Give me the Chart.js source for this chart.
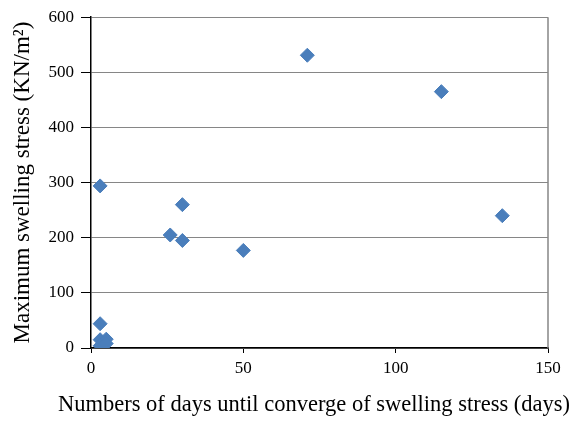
<!DOCTYPE html>
<html>
<head>
<meta charset="utf-8">
<script src="https://cdn.jsdelivr.net/npm/chart.js@4"></script>
<style>
  body { margin: 0; background: #fff; }
  #wrap { width: 574px; height: 425px; }
</style>
</head>
<body>
<div id="wrap"><canvas id="grafico"></canvas></div>
<script>
// dati
const giorni = [3, 3, 3, 5, 4, 3, 5, 26, 30, 30, 50, 71, 115, 135];
const pressione = [294, 44, 15, 16, 8, 4, 8, 205, 260, 195, 177, 531, 465, 240];
const tickX = [0, 50, 100, 150];
const tickY = [0, 100, 200, 300, 400, 500, 600];
const titoloX = "Numbers of days until converge of swelling stress (days)";
const titoloY = "Maximum swelling stress (KN/m²)";

const punti = giorni.map((g, i) => ({ x: g, y: pressione[i] }));

const fontSerif = "'Liberation Serif', 'Times New Roman', serif";

// bordo destro della cornice + titolo asse x (piu largo dell'asse, quindi disegnato a mano)
const cornice = {
  id: "cornice",
  afterDraw(chart) {
    const a = chart.chartArea;
    const ctx = chart.ctx;
    ctx.save();
    ctx.strokeStyle = "#868686";
    ctx.lineWidth = 1.5;
    ctx.beginPath();
    ctx.moveTo(a.right, a.top);
    ctx.lineTo(a.right, a.bottom);
    ctx.stroke();

    ctx.font = "22.5px " + fontSerif;
    ctx.fillStyle = "#000";
    ctx.textAlign = "center";
    ctx.textBaseline = "middle";
    ctx.fillText(titoloX, 314, 405);
    ctx.restore();
  },
};

new Chart(document.getElementById("grafico"), {
  type: "scatter",
  data: {
    datasets: [
      {
        data: punti,
        pointStyle: "rectRot",
        pointRadius: 7,
        pointHoverRadius: 7,
        backgroundColor: "#4A7EBB",
        borderColor: "#4A7EBB",
        borderWidth: 1,
      },
    ],
  },
  options: {
    responsive: true,
    maintainAspectRatio: false,
    animation: false,
    layout: { padding: { left: 0, right: 26, top: 15, bottom: 5 } },
    plugins: { legend: { display: false }, tooltip: { enabled: false } },
    scales: {
      x: {
        type: "linear",
        min: 0,
        max: 150,
        afterBuildTicks: (s) => { s.ticks = tickX.map((v) => ({ value: v })); },
        afterFit: (s) => { s.height = 72; },
        grid: { drawOnChartArea: false, tickLength: 5, tickColor: "#000" },
        border: { color: "#000", width: 1.5 },
        ticks: { color: "#000", font: { family: fontSerif, size: 17 }, padding: 5, maxRotation: 0 },
      },
      y: {
        type: "linear",
        min: 0,
        max: 600,
        afterBuildTicks: (s) => { s.ticks = tickY.map((v) => ({ value: v })); },
        afterFit: (s) => { s.width = 91; },
        grid: { color: "#868686", lineWidth: 1, tickLength: 10, tickColor: "#000" },
        border: { color: "#000", width: 1.5 },
        ticks: { color: "#000", font: { family: fontSerif, size: 17 }, padding: 7 },
        title: {
          display: true,
          text: titoloY,
          color: "#000",
          font: { family: fontSerif, size: 23 },
          padding: { top: 9, bottom: 0 },
        },
      },
    },
  },
  plugins: [cornice],
});
</script>
</body>
</html>
